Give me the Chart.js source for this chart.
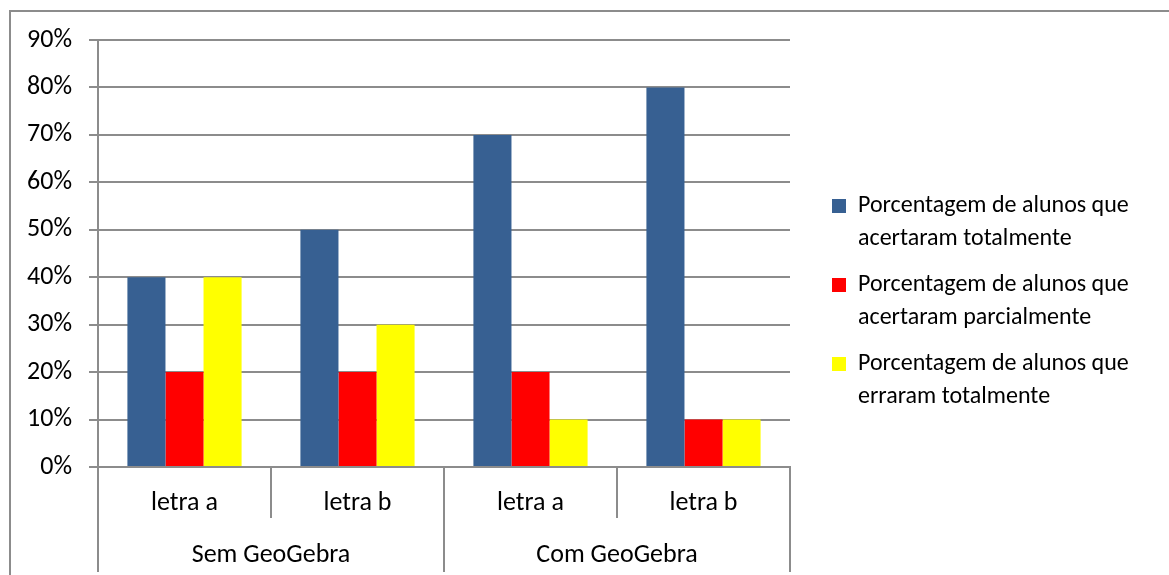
<!DOCTYPE html>
<html>
<head>
<meta charset="utf-8">
<script src="https://cdn.jsdelivr.net/npm/chart.js@4/dist/chart.umd.min.js"></script>
<style>
  html, body { margin: 0; padding: 0; background: #fff; }
  #frame {
    position: absolute; left: 9px; top: 10px; width: 1160px; height: 565px;
    border-left: 2px solid #8c8c8c; border-top: 2px solid #8c8c8c;
  }
  #chart { display: block; }
</style>
</head>
<body>
<div id="frame"><canvas id="chart" width="1158" height="563"></canvas></div>
<script>
// categories (two levels) and series values, in percent
var groups = ['Sem GeoGebra', 'Com GeoGebra'];
var items = ['letra a', 'letra b', 'letra a', 'letra b'];
var seriesNames = [
  ['Porcentagem de alunos que', 'acertaram totalmente'],
  ['Porcentagem de alunos que', 'acertaram parcialmente'],
  ['Porcentagem de alunos que', 'erraram totalmente']
];
var acertaramTotal = [40, 50, 70, 80];
var acertaramParcial = [20, 20, 20, 10];
var erraramTotal = [40, 30, 10, 10];
var yTicks = [0, 10, 20, 30, 40, 50, 60, 70, 80, 90];

var FONT = 'Carlito, Calibri, Lato, sans-serif';
var GRID = '#8c8c8c';

Chart.defaults.font.family = FONT;
Chart.defaults.font.size = 26;
Chart.defaults.color = '#000';

// the built-in layout caps a side legend at a fraction of the width;
// widen it so the two-line entries fit
var legendWidth = {
  id: 'legendWidth',
  beforeLayout: function (chart) {
    var lg = chart.legend;
    if (lg && !lg._widened) {
      var fit = lg.fit;
      lg.fit = function () {
        fit.call(this);
        this.width = 350;
      };
      lg._widened = true;
    }
  }
};

var ctx = document.getElementById('chart');
new Chart(ctx, {
  type: 'bar',
  data: {
    labels: items,
    datasets: [
      { label: seriesNames[0], data: acertaramTotal, backgroundColor: '#376092' },
      { label: seriesNames[1], data: acertaramParcial, backgroundColor: '#ff0000' },
      { label: seriesNames[2], data: erraramTotal, backgroundColor: '#ffff00' }
    ]
  },
  plugins: [legendWidth],
  options: {
    responsive: false,
    animation: false,
    devicePixelRatio: 1,
    layout: { padding: { top: 28, bottom: 3, left: 0, right: 0 } },
    datasets: {
      bar: { categoryPercentage: 0.66, barPercentage: 1, borderWidth: 0 }
    },
    scales: {
      x: {
        grid: { drawOnChartArea: false, offset: true, color: GRID, lineWidth: 2, tickLength: 51 },
        border: { color: GRID, width: 2 },
        ticks: { padding: -30, maxRotation: 0, autoSkip: false },
        afterFit: function (scale) { scale.height = 51; }
      },
      x2: {
        type: 'category',
        labels: groups,
        offset: true,
        position: 'bottom',
        grid: { drawOnChartArea: false, offset: true, color: GRID, lineWidth: 2, tickLength: 54 },
        border: { display: false },
        ticks: { padding: -32, maxRotation: 0, autoSkip: false },
        afterFit: function (scale) { scale.height = 54; }
      },
      y: {
        min: 0,
        max: 90,
        afterBuildTicks: function (scale) {
          scale.ticks = yTicks.map(function (v) { return { value: v }; });
        },
        afterFit: function (scale) {
          scale.width = 87;
          scale.paddingTop = 0;
          scale.paddingBottom = 0;
        },
        grid: { color: GRID, lineWidth: 2, tickLength: 9 },
        border: { color: GRID, width: 2 },
        ticks: {
          padding: 17,
          callback: function (v) { return v + '%'; }
        }
      },
      // empty spacer between the plot and the legend
      gap: {
        type: 'linear',
        position: 'right',
        grid: { display: false },
        border: { display: false },
        ticks: { display: false },
        afterFit: function (scale) { scale.width = 29; }
      }
    },
    plugins: {
      tooltip: { enabled: false },
      legend: {
        position: 'right',
        labels: {
          boxWidth: 14,
          boxHeight: 14,
          padding: 13,
          font: { size: 24, lineHeight: 1.375 }
        }
      }
    }
  }
});
</script>
</body>
</html>
